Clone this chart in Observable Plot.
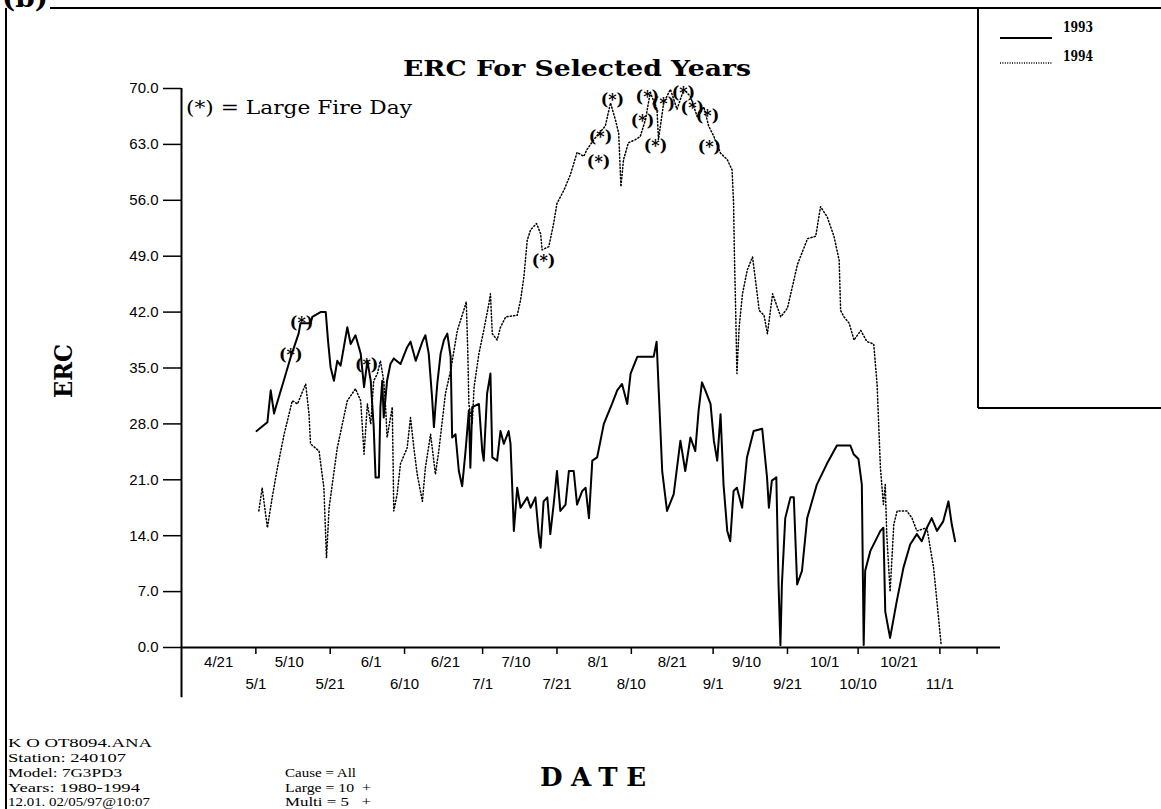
<!DOCTYPE html>
<html><head><meta charset="utf-8">
<script src="https://cdn.jsdelivr.net/npm/d3@7"></script>
<script src="https://cdn.jsdelivr.net/npm/@observablehq/plot@0.6"></script>
<style>
html,body{margin:0;padding:0;background:#fff;overflow:hidden}
#wrap{position:relative;width:1161px;height:809px;}
#wrap svg{position:absolute;left:0;top:0}
</style></head><body><div id="wrap"></div>
<script>
// x = day of year, y = ERC
const days1993 = [121.2,124.1,125.0,125.9,126.3,128.5,130.4,132.5,133.0,135.7,136.2,138.4,139.8,140.4,141.1,142.0,142.9,143.8,145.6,146.5,
147.8,149.2,150.1,151.0,151.9,152.7,153.2,154.1,154.5,155.0,155.4,156.3,157.2,158.1,159.9,161.7,162.6,164.0,165.8,166.6,
167.5,168.4,168.9,169.3,169.8,170.7,171.6,172.5,173.4,173.8,174.7,175.6,176.5,177.4,178.3,178.7,179.2,181.0,181.9,182.3,
183.2,184.1,184.6,185.9,186.8,187.7,189.0,189.5,190.0,190.4,191.3,192.2,194.0,194.9,196.2,197.1,197.6,198.4,199.4,200.2,
201.1,202.0,202.9,204.3,205.2,206.5,207.4,208.8,209.7,210.6,211.5,212.8,214.6,216.8,218.2,219.5,220.9,221.8,223.6,228.0,
228.8,229.4,230.3,231.6,233.4,235.2,236.5,237.9,239.2,240.1,241.0,241.9,243.3,244.2,245.1,246.0,246.8,247.8,248.6,249.5,
250.4,251.8,253.1,254.9,257.2,258.5,259.0,259.8,261.0,261.6,262.1,262.5,263.4,264.8,265.7,266.6,267.9,269.3,271.9,274.6,
277.3,280.9,281.8,283.1,284.0,284.5,284.9,286.3,289.0,289.8,290.3,291.6,293.4,295.2,297.0,298.8,300.1,301.5,302.8,304.2,
305.9,307.3,308.2,309.1];
const erc1993 = [27.1,28.2,32.2,29.3,30.0,33.4,36.4,39.3,40.6,40.6,41.4,42.0,42.0,38.5,35.1,33.4,35.9,35.3,40.1,38.0,
39.1,36.8,32.6,35.9,33.4,27.6,21.3,21.3,30.1,33.4,28.8,33.4,35.5,36.2,35.5,37.6,38.3,35.9,38.3,39.1,
36.8,31.3,27.6,30.1,33.0,36.8,38.5,39.3,36.4,26.3,26.7,22.1,20.2,24.6,29.7,22.5,30.1,30.5,24.6,23.4,
31.8,34.3,23.8,23.4,27.1,25.5,27.1,25.5,19.6,14.6,20.0,17.5,18.8,17.5,18.8,14.2,12.5,18.3,18.8,14.2,
17.9,22.1,17.1,17.9,22.1,22.1,17.9,19.6,20.0,16.2,23.4,23.8,28.0,30.5,32.2,33.0,30.5,34.3,36.4,36.4,
38.3,31.8,22.1,17.1,19.2,25.9,22.1,26.3,24.6,29.7,33.2,32.2,30.5,25.9,23.4,29.2,20.4,14.6,13.3,19.6,
20.0,17.5,23.8,27.1,27.4,21.3,17.5,20.9,21.3,7.9,0.3,7.9,16.2,18.8,18.8,7.9,9.6,16.2,20.4,23.0,
25.3,25.3,24.2,23.6,20.4,0.3,9.6,12.1,14.6,15.0,4.5,1.2,5.8,10.0,12.9,14.2,13.3,15.0,16.2,14.6,
15.8,18.3,15.4,13.3];

const days1994 = [121.8,122.7,124.1,125.4,126.8,128.6,130.8,132.2,134.4,135.3,135.7,138.0,139.3,140.0,140.7,142.9,145.6,147.8,149.2,150.1,
151.0,151.9,152.7,153.7,154.5,155.4,155.9,156.3,157.7,158.1,159.0,159.9,161.7,162.6,163.5,164.4,165.8,166.6,168.0,169.3,
170.2,172.0,173.4,175.2,176.9,177.6,178.0,178.3,179.2,179.7,181.0,182.3,183.7,184.1,184.6,185.9,186.8,188.2,191.3,192.2,
193.1,194.0,194.9,196.5,197.6,198.0,199.8,201.1,202.0,203.9,205.6,207.4,209.2,210.0,211.9,215.0,216.4,217.7,218.6,219.2,
219.9,221.2,223.1,224.4,225.8,227.1,228.9,229.3,230.7,232.5,234.3,236.1,237.9,239.7,241.5,242.8,244.2,246.0,247.8,249.1,
249.5,249.7,250.1,250.4,251.0,251.9,253.2,254.6,255.5,256.4,257.7,258.6,260.0,262.2,264.0,266.7,269.4,271.6,272.9,274.7,
276.5,277.9,278.3,279.2,280.6,281.9,283.7,285.4,287.2,288.1,289.0,289.8,290.3,290.7,291.6,292.6,293.5,296.1,297.5,298.8,
301.5,303.3,304.2,305.3];
const erc1994 = [17.1,20.0,15.0,18.8,22.5,26.7,30.9,30.5,33.0,29.2,25.5,24.6,20.0,11.2,17.5,25.0,30.9,32.4,30.9,24.2,
30.5,28.0,33.4,34.3,35.9,33.4,30.1,26.3,30.1,17.1,19.2,23.0,25.0,28.8,25.0,21.7,18.3,22.5,26.7,21.7,
24.6,31.8,34.7,39.7,42.2,43.3,37.2,30.5,28.0,32.6,36.8,39.7,43.1,44.3,39.3,38.5,40.1,41.4,41.6,43.5,
46.4,51.0,52.3,53.1,51.8,49.8,50.2,53.1,55.6,57.3,59.2,62.0,61.5,62.3,63.6,65.3,68.2,66.1,64.4,57.7,
61.1,63.2,63.6,64.0,66.1,69.5,67.4,63.6,68.2,69.9,67.4,69.9,69.0,66.5,67.7,65.3,64.0,61.9,61.1,59.8,
55.6,49.8,41.4,34.3,40.1,44.3,47.3,48.9,45.6,42.2,41.6,39.3,44.3,41.4,42.5,48.0,51.2,51.5,55.2,53.9,
51.5,48.5,42.2,41.4,40.6,38.5,39.7,38.3,38.0,33.0,22.5,17.9,20.4,14.2,7.0,15.4,17.1,17.1,16.2,14.6,
15.0,10.0,5.8,0.5];

// Large fire days (*)
const fireDays = [130.4,133.3,150.8,198.4,213.2,213.7,216.9,225.0,226.3,228.5,230.6,236.0,238.4,242.5,243.0];
const fireErc  = [36.6,40.7,35.4,48.4,60.8,64.0,68.6,65.9,68.9,62.8,68.1,69.5,67.6,66.6,62.7];

const yTicks = [0,7,14,21,28,35,42,49,56,63,70];
const upperDays = [111,130,152,172,191,213,233,253,274,294];
const upperLabels = ["4/21","5/10","6/1","6/21","7/10","8/1","8/21","9/10","10/1","10/21"];
const lowerDays = [121,141,161,182,202,222,244,264,283,305];
const lowerLabels = ["5/1","5/21","6/10","7/1","7/21","8/10","9/1","9/21","10/10","11/1"];
const tickDays = [121,141,161,182,202,222,244,264,283,305,315];

const rows1993 = days1993.map((d,i)=>({day:d, erc:erc1993[i]}));
const rows1994 = days1994.map((d,i)=>({day:d, erc:erc1994[i]}));
const fireRows = fireDays.map((d,i)=>({day:d, erc:fireErc[i]}));
const labelMap = new Map([...upperDays.map((d,i)=>[d,upperLabels[i]]), ...lowerDays.map((d,i)=>[d,lowerLabels[i]])]);

const xDomain = [101, 321.3];
const yAxisFoot = -6.3;

const chart = Plot.plot({
  width: 1161, height: 809,
  marginLeft: 181, marginRight: 161, marginTop: 88, marginBottom: 162,
  x: {domain: xDomain, axis: null},
  y: {domain: [0, 70], axis: null},
  style: {background: "transparent", color: "black", fontFamily: "'Liberation Sans', Arial, sans-serif", fontSize: "15px"},
  marks: [
    Plot.ruleY([0], {stroke: "black", strokeWidth: 2}),
    Plot.ruleX([xDomain[0]], {y1: yAxisFoot, y2: 70, stroke: "black", strokeWidth: 2}),
    Plot.axisY({ticks: yTicks, tickSize: 18, tickPadding: 5, tickFormat: d => d.toFixed(1), fontSize: 15, label: null, strokeWidth: 1.5}),
    Plot.axisX({ticks: tickDays, tickSize: 7, tickFormat: () => "", label: null, strokeWidth: 1.5}),
    Plot.axisX({ticks: upperDays, tickSize: 0, tickPadding: 9, tickFormat: d => labelMap.get(d), fontSize: 15, label: null}),
    Plot.axisX({ticks: lowerDays, tickSize: 0, tickPadding: 31, tickFormat: d => labelMap.get(d), fontSize: 15, label: null}),
    Plot.line(rows1994, {x: "day", y: "erc", stroke: "black", strokeWidth: 1.5, strokeDasharray: "1.2,2.2"}),
    Plot.line(rows1993, {x: "day", y: "erc", stroke: "black", strokeWidth: 2}),
    Plot.text(fireRows, {x: "day", y: "erc", text: () => "(*)", fontSize: 16, fontWeight: "bold", fontFamily: "DejaVu Serif"})
  ]
});
document.getElementById("wrap").appendChild(chart);

// overlay text and frame
const ns = "http://www.w3.org/2000/svg";
const ov = document.createElementNS(ns, "svg");
ov.setAttribute("width", 1161); ov.setAttribute("height", 809);
ov.innerHTML = `
<g stroke="black" stroke-width="2" fill="none">
  <line x1="6" y1="8" x2="6" y2="809"/>
  <line x1="50" y1="8" x2="1161" y2="8"/>
  <line x1="978" y1="8" x2="978" y2="408"/>
  <line x1="978" y1="408" x2="1161" y2="408"/>
  <line x1="1000" y1="38" x2="1052" y2="38"/>
  <line x1="1000" y1="63" x2="1052" y2="63" stroke-width="1.3" stroke-dasharray="1,1.4"/>
</g>
<g fill="black">
  <text x="2" y="7" font-family="DejaVu Serif" font-weight="bold" font-size="28">(b)</text>
  <text x="1063" y="32" font-family="DejaVu Serif" font-weight="bold" font-size="15" textLength="30" lengthAdjust="spacingAndGlyphs">1993</text>
  <text x="1063" y="61" font-family="DejaVu Serif" font-weight="bold" font-size="15" textLength="30" lengthAdjust="spacingAndGlyphs">1994</text>
  <text x="403" y="76" font-family="DejaVu Serif" font-weight="bold" font-size="23" textLength="348" lengthAdjust="spacingAndGlyphs">ERC For Selected Years</text>
  <text x="186" y="114" font-family="DejaVu Serif" font-size="18" textLength="226" lengthAdjust="spacingAndGlyphs">(*) = Large Fire Day</text>
  <text transform="translate(72,371) rotate(-90)" text-anchor="middle" font-family="DejaVu Serif" font-weight="bold" font-size="24" textLength="54" lengthAdjust="spacingAndGlyphs">ERC</text>
  <text x="540" y="786" font-family="DejaVu Serif" font-weight="bold" font-size="26" textLength="106" lengthAdjust="spacing">DATE</text>
  <g font-family="'Liberation Serif', serif" font-size="13.5">
    <text x="8" y="747" textLength="144" lengthAdjust="spacingAndGlyphs">K O OT8094.ANA</text>
    <text x="8" y="762" textLength="118" lengthAdjust="spacingAndGlyphs">Station: 240107</text>
    <text x="8" y="777" textLength="114" lengthAdjust="spacingAndGlyphs">Model: 7G3PD3</text>
    <text x="8" y="792" textLength="132" lengthAdjust="spacingAndGlyphs">Years: 1980-1994</text>
    <text x="8" y="806" textLength="142" lengthAdjust="spacingAndGlyphs">12.01. 02/05/97@10:07</text>
    <text x="285" y="777" textLength="71" lengthAdjust="spacingAndGlyphs">Cause = All</text>
    <text x="285" y="792" textLength="86" lengthAdjust="spacingAndGlyphs" xml:space="preserve">Large = 10  +</text>
    <text x="285" y="806" textLength="86" lengthAdjust="spacingAndGlyphs" xml:space="preserve">Multi = 5   +</text>
  </g>
</g>`;
document.getElementById("wrap").appendChild(ov);
</script></body></html>
